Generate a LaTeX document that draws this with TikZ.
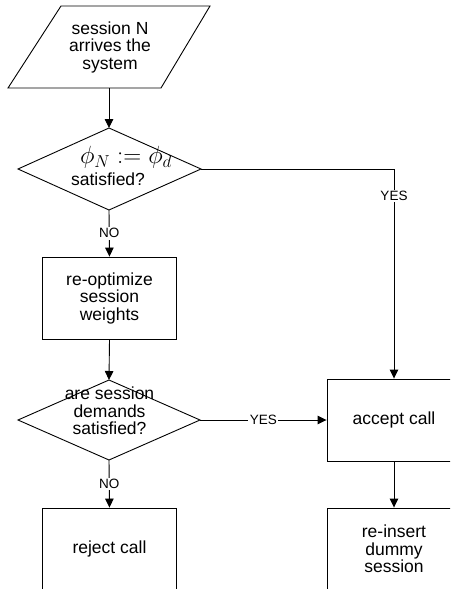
\documentclass[tikz,border=0pt]{standalone}
\usepackage{fontspec}
\setmainfont{Liberation Sans}
\usetikzlibrary{arrows.meta}
\begin{document}
\begin{tikzpicture}[x=1pt,y=-1pt,
  line/.style={line width=0.9pt},
  arr/.style={line width=0.9pt, -{Triangle[length=9pt,width=8.5pt]}},
  txt/.style={align=center, inner sep=0pt, font=\fontsize{17.5}{17.5}\selectfont},
  box/.style={draw, line width=0.9pt, minimum width=134pt, minimum height=82pt, align=center, inner sep=0pt, font=\fontsize{17.5}{17.5}\selectfont},
  lbl/.style={fill=white, inner sep=1.5pt, font=\fontsize{13.5}{14}\selectfont}]
\useasboundingbox (0,0) rectangle (450,589);
\clip (0,0) rectangle (450,589);
% parallelogram
\coordinate (pTL) at (61,6);
\coordinate (pTR) at (210,6);
\coordinate (pBR) at (161,88);
\coordinate (pBL) at (8,88);
\coordinate (pB) at (109,88);
\draw[line] (pTL) -- (pTR) -- (pBR) -- (pBL) -- cycle;
\node[txt] (ptext) at (110,47) {session N\\arrives the\\system};
% diamond 1
\coordinate (d1t) at (109,128);
\coordinate (d1r) at (201,169);
\coordinate (d1b) at (109,210);
\coordinate (d1l) at (18,169);
\draw[line] (d1t) -- (d1r) -- (d1b) -- (d1l) -- cycle;
\node[inner sep=0pt, font=\fontsize{23}{23}\selectfont] (d1m) at (126,157.5) {$\phi_N := \phi_d$};
\node[txt] (d1s) at (108,179) {satisfied?};
% box 1
\node[box] (b1) at (109.5,298) {re-optimize\\session\\weights};
% diamond 2
\coordinate (d2t) at (109,380);
\coordinate (d2r) at (200,420);
\coordinate (d2b) at (109,460);
\coordinate (d2l) at (18,420);
\draw[line] (d2t) -- (d2r) -- (d2b) -- (d2l) -- cycle;
\node[txt] (d2s) at (109.5,411) {are session\\demands\\satisfied?};
% right boxes
\node[box] (acc) at (394,420) {accept call};
\node[box] (rej) at (109.5,549) {reject call};
\node[box] (ins) at (394,549) {re-insert\\dummy\\session};
% connectors
\draw[arr] (pB) -- (d1t);
\draw[arr] (d1b) -- node[lbl] {NO} (b1.north);
\draw[arr] (b1.south) -- (d2t);
\draw[arr] (d1r) -| node[lbl, pos=0.564] {YES} (acc.north);
\draw[arr] (d2r) -- node[lbl] {YES} (acc.west);
\draw[arr] (d2b) -- node[lbl] {NO} (rej.north);
\draw[arr] (acc.south) -- (ins.north);
\end{tikzpicture}
\end{document}
